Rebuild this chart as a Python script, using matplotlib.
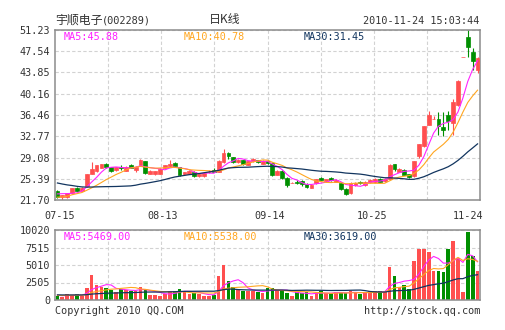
import numpy as np
import matplotlib
matplotlib.use("Agg")
import matplotlib.pyplot as plt
from matplotlib.transforms import blended_transform_factory

plt.rcParams['font.family'] = ['DejaVu Sans Mono', 'Noto Sans CJK SC']

# 宇顺电子(002289) 日K, 2010-07-15 .. 2010-11-24
opens = [23.3, 22.2, 22.2, 22.9, 23.8, 23.3, 24.1, 26.3, 26.8, 27.3,
         28.0, 27.4, 26.9, 27.5, 26.8, 27.7, 26.9, 27.7, 28.4, 26.3,
         26.2, 26.3, 27.3, 27.6, 28.2, 27.4, 26.2, 26.3, 26.6, 25.8,
         25.8, 26.5, 26.9, 26.6, 28.3, 29.9, 29.1, 28.3, 28.6, 27.8,
         28.4, 28.6, 28.0, 28.5, 28.2, 26.1, 26.8, 25.6, 24.6, 24.9,
         25.0, 24.5, 23.8, 24.6, 25.6, 25.0, 25.6, 24.9, 24.7, 23.6,
         22.9, 24.3, 24.9, 24.3, 24.8, 24.8, 25.4, 25.0, 25.4, 27.9,
         26.6, 26.9, 26.2, 25.8, 29.3, 31.0, 34.8, 35.8, 35.7, 34.3,
         36.4, 35.1, 38.2, 46.6, 50.0, 47.4, 44.3]
highs = [23.5, 22.6, 23.0, 23.8, 23.9, 23.9, 26.2, 28.3, 27.8, 28.0,
         28.1, 27.5, 27.5, 27.7, 27.6, 28.0, 27.6, 28.9, 28.5, 26.9,
         26.8, 27.2, 27.8, 28.6, 28.3, 27.5, 26.6, 26.9, 26.7, 26.4,
         26.5, 26.9, 27.2, 28.6, 30.6, 30.1, 29.2, 28.9, 28.7, 28.5,
         29.0, 28.7, 28.6, 28.7, 28.3, 26.9, 26.9, 25.7, 24.8, 25.1,
         25.1, 24.6, 24.4, 25.4, 25.7, 25.4, 25.7, 25.3, 24.8, 23.7,
         24.8, 24.9, 25.0, 25.0, 25.3, 25.5, 25.5, 25.5, 27.9, 28.0,
         27.2, 27.1, 26.3, 28.5, 31.4, 34.5, 37.1, 36.3, 37.0, 37.0,
         37.1, 39.2, 42.5, 46.6, 51.3, 48.1, 46.5]
lows = [22.1, 21.6, 22.0, 22.8, 23.2, 23.2, 24.0, 26.2, 26.6, 27.2,
        27.3, 26.6, 26.8, 26.9, 26.7, 27.2, 26.6, 27.6, 26.2, 26.2,
        26.0, 26.2, 27.2, 27.5, 27.5, 25.9, 26.1, 26.2, 25.7, 25.7,
        25.7, 26.4, 26.5, 26.5, 28.2, 28.9, 28.2, 28.2, 27.7, 27.7,
        28.3, 28.2, 27.9, 28.0, 25.9, 26.0, 25.3, 24.0, 24.6, 24.5,
        24.2, 23.8, 23.8, 24.5, 25.1, 24.9, 25.0, 24.8, 23.5, 22.5,
        22.8, 24.2, 24.5, 24.2, 24.7, 24.7, 24.8, 24.9, 25.3, 26.8,
        26.5, 26.0, 25.6, 25.7, 29.0, 30.9, 34.7, 35.8, 33.0, 32.8,
        33.8, 33.0, 38.1, 46.6, 46.5, 44.3, 43.7]
closes = [22.3, 22.5, 22.9, 23.7, 23.3, 23.8, 26.2, 27.1, 27.7, 27.9,
          27.4, 26.8, 27.4, 27.3, 27.5, 27.3, 27.5, 28.6, 26.4, 26.8,
          26.7, 27.1, 27.7, 28.0, 27.6, 26.0, 26.5, 26.8, 25.8, 26.3,
          26.4, 26.6, 26.6, 28.4, 29.8, 29.4, 28.3, 28.7, 27.9, 28.4,
          28.9, 28.3, 28.5, 28.1, 26.0, 26.8, 25.5, 24.3, 24.7, 24.6,
          24.5, 23.9, 24.3, 25.3, 25.2, 25.3, 25.2, 25.1, 23.6, 22.8,
          24.7, 24.7, 24.6, 24.9, 25.1, 25.4, 24.9, 25.4, 27.8, 27.0,
          27.1, 26.1, 25.7, 28.5, 31.4, 34.5, 36.4, 35.8, 34.5, 33.8,
          35.5, 38.8, 42.4, 46.6, 48.2, 45.9, 46.3]
volumes = [600, 450, 800, 750, 850, 600, 1700, 3600, 2100, 1900,
           1700, 1450, 1200, 1550, 1450, 1350, 1300, 1800, 1550, 750,
           750, 600, 850, 1300, 1250, 1550, 1300, 800, 1000, 850,
           600, 600, 650, 3400, 5000, 2700, 1900, 1500, 1300, 1250,
           1300, 1200, 1000, 1700, 1700, 1450, 1250, 1000, 600, 1100,
           1000, 1100, 600, 1000, 1250, 1000, 1000, 1100, 1000, 1000,
           1250, 1100, 900, 1000, 1250, 1250, 1240, 1200, 4700, 3500,
           1900, 2200, 1600, 5600, 7300, 7300, 6800, 4200, 4100, 4000,
           7300, 8435, 6000, 1150, 9750, 6300, 4145]

# 29 sessions before 07-15, only used to seed the moving averages
pre_closes = [27.8, 27.5, 27.0, 27.4, 26.9, 27.3, 26.6, 26.9, 27.2, 26.8,
              26.5, 26.9, 26.3, 26.5, 26.2, 24.0, 23.0, 22.6, 22.3, 22.0,
              22.2, 21.5, 21.2, 21.4, 21.8, 22.3, 22.9, 23.3, 23.0]
pre_volumes = [820, 760, 900, 680, 720, 650, 880, 790, 700, 640,
               760, 820, 700, 950, 1100, 880, 760, 650, 600, 700,
               640, 580, 620, 700, 760, 680, 720, 640, 700]

date_labels = ['07-15', '08-13', '09-14', '10-25', '11-24']
date_index = [0, 21, 43, 64, 86]
price_ticks = [21.70, 25.39, 29.08, 32.77, 36.46, 40.16, 43.85, 47.54, 51.23]
vol_ticks = [0, 2505, 5010, 7515, 10020]

RED = '#ff4f4f'
GREEN = '#008f00'
C_MA5 = '#ff22ff'
C_MA10 = '#ffa620'
C_MA30 = '#12355f'
TXT = '#333333'
GRID = '#d2d2d2'
FRAME = '#8c8c8c'


def moving_avg(pre, vals, n):
    s = np.array(pre + vals, dtype=float)
    return np.convolve(s, np.ones(n) / n, mode='valid')[-len(vals):]


n = len(closes)
x = np.arange(n)
o = np.array(opens)
c = np.array(closes)
up = c >= o
colors = [RED if u else GREEN for u in up]

ma5 = moving_avg(pre_closes, closes, 5)
ma10 = moving_avg(pre_closes, closes, 10)
ma30 = moving_avg(pre_closes, closes, 30)
vma5 = moving_avg(pre_volumes, volumes, 5)
vma10 = moving_avg(pre_volumes, volumes, 10)
vma30 = moving_avg(pre_volumes, volumes, 30)

W, H = 505, 330
fig = plt.figure(figsize=(W / 100, H / 100), dpi=100)
fig.patch.set_facecolor('white')

ax = fig.add_axes([55 / W, (H - 200) / H, 425 / W, 170 / H])
axv = fig.add_axes([55 / W, (H - 300) / H, 425 / W, 70 / H])

vgrid = [-0.5 + k * n / 8 for k in range(1, 8)]

for a in (ax, axv):
    a.set_xlim(-0.5, n - 0.5)
    a.set_xticks(vgrid)
    a.set_xticklabels([])
    a.tick_params(length=0, labelsize=7.3, labelcolor=TXT, pad=3.5)
    a.grid(True, color=GRID, linestyle=(0, (3, 2)), linewidth=0.8)
    a.set_axisbelow(True)
    for s in a.spines.values():
        s.set_color(FRAME)
        s.set_linewidth(1.1)

# candles
ax.vlines(x, lows, highs, colors=colors, linewidth=0.8, zorder=2)
ax.bar(x, np.abs(c - o), bottom=np.minimum(o, c), width=0.78,
       color=colors, edgecolor=colors, linewidth=0.5, zorder=3)
ax.plot(x, ma5, color=C_MA5, lw=0.8, zorder=4)
ax.plot(x, ma10, color=C_MA10, lw=0.8, zorder=4)
ax.plot(x, ma30, color=C_MA30, lw=0.9, zorder=4)
ax.set_ylim(price_ticks[0], price_ticks[-1])
ax.set_yticks(price_ticks)
ax.set_yticklabels(['%.2f' % t for t in price_ticks])

# volume
axv.bar(x, volumes, width=0.75, color=colors, zorder=2)
axv.plot(x, vma5, color=C_MA5, lw=0.8, zorder=4)
axv.plot(x, vma10, color=C_MA10, lw=0.8, zorder=4)
axv.plot(x, vma30, color=C_MA30, lw=0.9, zorder=4)
axv.set_ylim(0, vol_ticks[-1])
axv.set_yticks(vol_ticks)
axv.set_yticklabels([str(t) for t in vol_ticks])


def ftext(px, py, s, **kw):
    kw.setdefault('fontsize', 7.3)
    kw.setdefault('color', TXT)
    kw.setdefault('va', 'center')
    fig.text(px / W, 1 - py / H, s, **kw)


ftext(55, 20, '宇顺电子', family=['Noto Sans CJK SC'], fontsize=8.6)
ftext(102, 20.5, '(002289)', fontsize=7.4)
ftext(225, 20, '日K线', family=['Noto Sans CJK SC'], fontsize=8.6, ha='center')
ftext(479, 21, '2010-11-24 15:03:44', ha='right')

ftext(64, 37, 'MA5:%.2f' % ma5[-1], color=C_MA5)
ftext(184, 37, 'MA10:%.2f' % ma10[-1], color=C_MA10)
ftext(304, 37, 'MA30:%.2f' % ma30[-1], color=C_MA30)

ftext(64, 237, 'MA5:%.2f' % vma5[-1], color=C_MA5)
ftext(184, 237, 'MA10:%.2f' % vma10[-1], color=C_MA10)
ftext(304, 237, 'MA30:%.2f' % vma30[-1], color=C_MA30)

# date labels between the panels
tr = blended_transform_factory(ax.transData, fig.transFigure)
for i, lab in zip(date_index, date_labels):
    if i == n - 1:
        ax.text(n - 0.5 + 0.6, 1 - 216 / H, lab, transform=tr, ha='right',
                va='center', fontsize=7.3, color=TXT)
    else:
        ax.text(i + 0.5, 1 - 216 / H, lab, transform=tr, ha='center',
                va='center', fontsize=7.3, color=TXT)

ftext(55, 311, 'Copyright 2010 QQ.COM')
ftext(480, 311, 'http://stock.qq.com', ha='right')

fig.savefig('out.png', dpi=100, facecolor='white')
